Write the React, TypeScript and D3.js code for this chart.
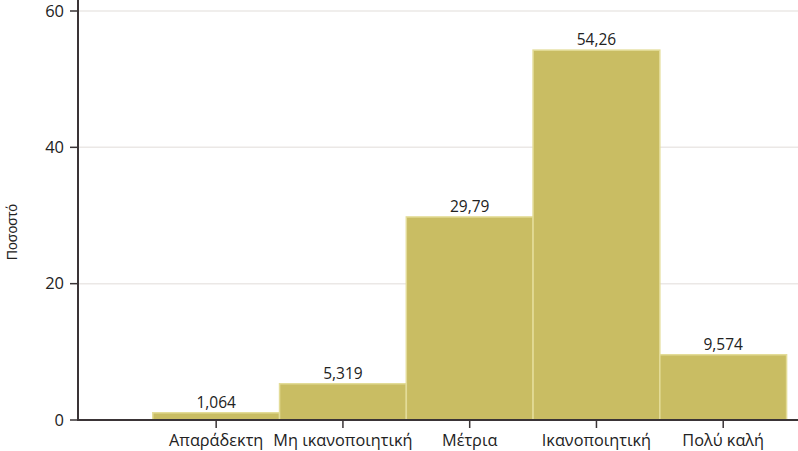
import React from "react";
import * as d3 from "d3";

const categories = ["Απαράδεκτη", "Μη ικανοποιητική", "Μέτρια", "Ικανοποιητική", "Πολύ καλή"];
const values = [1.064, 5.319, 29.79, 54.26, 9.574];
const valueLabels = ["1,064", "5,319", "29,79", "54,26", "9,574"];
const yTicks = [0, 20, 40, 60];
const yTitle = "Ποσοστό";

const W = 798;
const H = 451;

export default function App() {
  const x = d3.scaleLinear().domain([-0.09, 5.59]).range([78, 798]);
  const y = d3.scaleLinear().domain([0, 60]).range([420, 11]);
  const font = "'Open Sans', Lato, sans-serif";
  return (
    <svg width={W} height={H} style={{ position: "absolute", left: 0, top: 0, background: "#fff" }}>
      {yTicks.filter((t) => t > 0).map((t) => (
        <line key={"g" + t} x1={79} x2={W} y1={y(t)} y2={y(t)} stroke="#ebe8e6" strokeWidth={1.5} />
      ))}
      {values.map((v, i) => (
        <rect
          key={"b" + i}
          x={x(i + 0.5)}
          y={y(v)}
          width={x(i + 1.5) - x(i + 0.5)}
          height={y(0) - y(v)}
          fill="#c9bd63"
          stroke="#e3dc98"
          strokeWidth={1.5}
        />
      ))}
      {values.map((v, i) => (
        <text
          key={"v" + i}
          x={x(i + 1)}
          y={y(v) - 5}
          textAnchor="middle"
          fontFamily={font}
          fontSize={15.5}
          fill="#222"
        >
          {valueLabels[i]}
        </text>
      ))}
      <line x1={78} x2={78} y1={0} y2={421} stroke="#3a3436" strokeWidth={2} />
      <line x1={77} x2={W} y1={420} y2={420} stroke="#3a3436" strokeWidth={2} />
      {yTicks.map((t) => (
        <g key={"y" + t}>
          <line x1={70} x2={78} y1={y(t)} y2={y(t)} stroke="#3a3436" strokeWidth={1.5} />
          <text x={64} y={y(t)} dy="0.35em" textAnchor="end" fontFamily={font} fontSize={16.5} fill="#222">
            {t}
          </text>
        </g>
      ))}
      {categories.map((c, i) => (
        <g key={"c" + i}>
          <line x1={x(i + 1)} x2={x(i + 1)} y1={420} y2={428} stroke="#3a3436" strokeWidth={1.5} />
          <text x={x(i + 1)} y={446} textAnchor="middle" fontFamily={font} fontSize={16.3} fill="#222">
            {c}
          </text>
        </g>
      ))}
      <text
        transform={`translate(17, 232) rotate(-90)`}
        textAnchor="middle"
        fontFamily="'Liberation Sans Narrow', 'Liberation Sans', sans-serif"
        fontSize={14}
        fill="#222"
      >
        {yTitle}
      </text>
    </svg>
  );
}
